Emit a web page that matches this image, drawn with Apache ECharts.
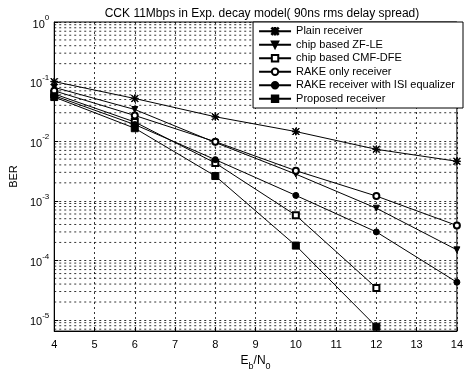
<!DOCTYPE html>
<html>
<head>
<meta charset="utf-8">
<script src="https://cdn.jsdelivr.net/npm/echarts@6/dist/echarts.min.js"></script>
<style>
  html, body { margin: 0; padding: 0; background: #fff; }
  #chart { width: 466px; height: 376px; }
</style>
</head>
<body>
<div id="chart"></div>
<script>
    "use strict";

    /*----data----*/
    var ebn0 = [4, 6, 8, 10, 12, 14];
    var plainRx   = [0.1, 0.052, 0.0257, 0.0145, 0.0073, 0.0046];
    var zfLe      = [0.08, 0.034, 0.0095, 0.0028, 0.00075, 0.00015];
    var cmfDfe    = [0.062, 0.021, 0.0043, 0.00057, 0.0000345];
    var rakeOnly  = [0.07, 0.027, 0.0098, 0.0032, 0.0012, 0.000385];
    var rakeIsi   = [0.058, 0.019, 0.0049, 0.00123, 0.0003, 0.000043];
    var proposed  = [0.055, 0.0165, 0.0026, 0.000177, 0.0000077];

    var seriesNames = ['Plain receiver', 'chip based ZF-LE', 'chip based CMF-DFE',
                       'RAKE only receiver', 'RAKE receiver with ISI equalizer', 'Proposed receiver'];
    var xTicks = [4, 5, 6, 7, 8, 9, 10, 11, 12, 13, 14];
    var minorMults = [2, 3, 4, 5, 6, 7, 8, 9];
    var decades = [-6, -5, -4, -3, -2, -1];

    var yMin = 6.5e-6, yMax = 1;

    function pairs(ys) {
        return ys.map(function (v, i) { return [ebn0[i], v]; });
    }

    // minor log grid lines (2..9 x 10^k), one broken line series
    var minorGrid = [];
    decades.forEach(function (d) {
        minorMults.forEach(function (m) {
            var v = m * Math.pow(10, d);
            if (v > yMin && v < yMax) {
                minorGrid.push([xTicks[0], v], [xTicks[xTicks.length - 1], v], [xTicks[xTicks.length - 1], '-']);
            }
        });
    });

    var star = 'path://M9,0H11V20H9Z M0,9H20V11H0Z M1.5,0.1L19.9,18.5L18.5,19.9L0.1,1.5Z M18.5,0.1L19.9,1.5L1.5,19.9L0.1,18.5Z';

    var gridDash = { color: '#000', width: 0.8, type: [2, 3] };

    function line(name, ys, symbol, size, rotate) {
        return {
            name: name,
            type: 'line',
            data: pairs(ys),
            symbol: symbol,
            symbolSize: size,
            symbolRotate: rotate || 0,
            showAllSymbol: true,
            color: '#000',
            lineStyle: { color: '#000', width: 1 },
            itemStyle: { color: '#000', borderColor: '#000', borderWidth: 1 },
            z: 5
        };
    }

    var chartSeries = [
        line(seriesNames[0], plainRx, star, 7),
        line(seriesNames[1], zfLe, 'triangle', 6, 180),
        line(seriesNames[2], cmfDfe, 'emptyRect', 6),
        line(seriesNames[3], rakeOnly, 'emptyCircle', 6),
        line(seriesNames[4], rakeIsi, 'circle', 6),
        line(seriesNames[5], proposed, 'rect', 7)
    ];

    chartSeries.push({
        name: 'minor grid',
        type: 'line',
        data: minorGrid,
        silent: true,
        connectNulls: false,
        symbol: 'none',
        z: 1,
        lineStyle: gridDash
    });

    var fontFam = '"Liberation Sans", Arial, sans-serif';

    var option = {
        animation: false,
        backgroundColor: '#fff',
        textStyle: { fontFamily: fontFam },
        title: {
            text: 'CCK 11Mbps in Exp. decay model( 90ns rms delay spread)',
            left: 257,
            textAlign: 'center',
            top: 3,
            textStyle: { fontSize: 12, fontWeight: 'normal', color: '#000', fontFamily: fontFam }
        },
        grid: {
            left: 51,
            right: 4,
            top: 22,
            bottom: 37,
            show: true,
            borderColor: '#000',
            borderWidth: 1
        },
        legend: {
            data: seriesNames,
            orient: 'vertical',
            right: 3,
            top: 22,
            z: 20,
            itemWidth: 32,
            itemHeight: 8,
            itemGap: 1,
            padding: [3, 8, 3, 5],
            backgroundColor: '#fff',
            borderColor: '#000',
            borderWidth: 1,
            textStyle: { fontSize: 11, lineHeight: 12.5, color: '#000', fontFamily: fontFam }
        },
        xAxis: {
            type: 'value',
            min: 4,
            max: 14,
            interval: 1,
            name: '{n|E}{s|b}{n|/N}{s|0}',
            nameLocation: 'middle',
            nameGap: 20,
            nameTextStyle: {
                color: '#000',
                rich: {
                    n: { fontSize: 12, color: '#000', fontFamily: fontFam, lineHeight: 16, verticalAlign: 'top' },
                    s: { fontSize: 9, color: '#000', fontFamily: fontFam, lineHeight: 16, verticalAlign: 'bottom' }
                }
            },
            axisLine: { lineStyle: { color: '#000' } },
            axisTick: { inside: true, length: 4, lineStyle: { color: '#000' } },
            axisLabel: { fontSize: 11, color: '#000', margin: 8,
                formatter: function (v) { return xTicks.indexOf(v) >= 0 ? String(v) : ''; } },
            splitLine: { show: true, lineStyle: gridDash }
        },
        yAxis: {
            type: 'log',
            logBase: 10,
            min: yMin,
            max: yMax,
            name: 'BER',
            nameLocation: 'middle',
            nameGap: 26,
            nameTextStyle: { fontSize: 11, color: '#000' },
            axisLine: { lineStyle: { color: '#000' } },
            axisTick: { inside: true, length: 4, lineStyle: { color: '#000' } },
            axisLabel: {
                margin: 5,
                color: '#000',
                formatter: function (v) {
                    var e = Math.round(Math.log(v) / Math.LN10);
                    if (Math.abs(v / Math.pow(10, e) - 1) > 1e-6) return '';
                    return '{b|10}{s|' + e + '}';
                },
                rich: {
                    b: { fontSize: 11, color: '#000', fontFamily: fontFam, lineHeight: 16, verticalAlign: 'bottom' },
                    s: { fontSize: 8, color: '#000', fontFamily: fontFam, lineHeight: 16, verticalAlign: 'top' }
                }
            },
            splitLine: { show: true, lineStyle: gridDash }
        },
        series: chartSeries
    };

    var chartEl = document.getElementById('chart');
    var berChart = echarts.init(chartEl);
    berChart.setOption(option);
</script>
</body>
</html>
